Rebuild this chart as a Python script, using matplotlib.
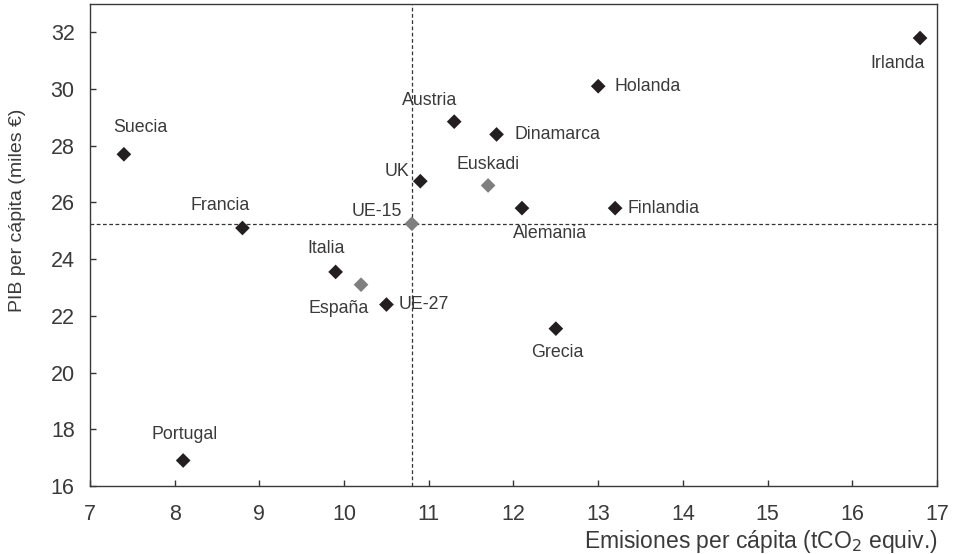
import matplotlib
matplotlib.use("Agg")
import matplotlib.pyplot as plt

plt.rcParams['font.family'] = ['Liberation Sans', 'DejaVu Sans']

names = ["Suecia", "Francia", "Portugal", "Italia", "España", "UE-27", "UE-15", "UK",
         "Austria", "Dinamarca", "Euskadi", "Alemania", "Finlandia", "Grecia", "Holanda", "Irlanda"]
emisiones = [7.4, 8.8, 8.1, 9.9, 10.2, 10.5, 10.8, 10.9, 11.3, 11.8, 11.7, 12.1, 13.2, 12.5, 13.0, 16.8]
pib = [27.7, 25.1, 16.9, 23.55, 23.1, 22.4, 25.25, 26.75, 28.85, 28.4, 26.6, 25.8, 25.8, 21.55, 30.1, 31.8]
grises = ["España", "UE-15", "Euskadi"]
ref_x = 10.8
ref_y = 25.25

# label offsets in points (dx, dy, ha)
offsets = {
    "Suecia": (12, 19, 'center'),
    "Francia": (-16, 16, 'center'),
    "Portugal": (1, 19, 'center'),
    "Italia": (-7, 17, 'center'),
    "España": (-16, -17, 'center'),
    "UE-27": (9, 0, 'left'),
    "UE-15": (-7, 9, 'right'),
    "UK": (-8, 7, 'right'),
    "Austria": (-18, 15, 'center'),
    "Dinamarca": (13, 0, 'left'),
    "Euskadi": (0, 15, 'center'),
    "Alemania": (20, -18, 'center'),
    "Finlandia": (9, 0, 'left'),
    "Grecia": (1, -17, 'center'),
    "Holanda": (12, 0, 'left'),
    "Irlanda": (-16, -18, 'center'),
}

txt = '#3a3a3a'
fig = plt.figure(figsize=(9.54, 5.54), dpi=100)
ax = fig.add_axes([90/954, 1 - 486/554, (937-90)/954, (486-4)/554])

ax.axvline(ref_x, color='#333333', lw=0.9, ls=(0, (3, 2)), zorder=1)
ax.axhline(ref_y, color='#333333', lw=0.9, ls=(0, (3, 2)), zorder=1)

cols = ['#7f7f7f' if n in grises else '#231f20' for n in names]
ax.scatter(emisiones, pib, marker='D', s=56, c=cols, edgecolors='none', zorder=3)

for n, x, y in zip(names, emisiones, pib):
    dx, dy, ha = offsets[n]
    ax.annotate(n, (x, y), xytext=(dx, dy), textcoords='offset points',
                ha=ha, va='center', fontsize=12.8, color=txt)

ax.set_xlim(7, 17)
ax.set_ylim(16, 33)
ax.set_xticks(range(7, 18))
ax.set_yticks(range(16, 33, 2))
ax.tick_params(direction='in', length=4.5, width=1, colors='#333333', labelsize=15.5,
               labelcolor=txt)
ax.tick_params(axis='x', pad=13)
ax.tick_params(axis='y', pad=11)
for s in ax.spines.values():
    s.set_color('#3a3a3a')
    s.set_linewidth(1)

ax.set_xlabel("Emisiones per cápita (tCO$_2$ equiv.)", fontsize=16.5, color=txt, loc='right')
ax.xaxis.set_label_coords(1.001, -0.088)
ax.set_ylabel("PIB per cápita (miles €)", fontsize=14, color=txt)
ax.yaxis.set_label_coords(-0.0756, 0.571)

fig.savefig("out.png", dpi=100)
